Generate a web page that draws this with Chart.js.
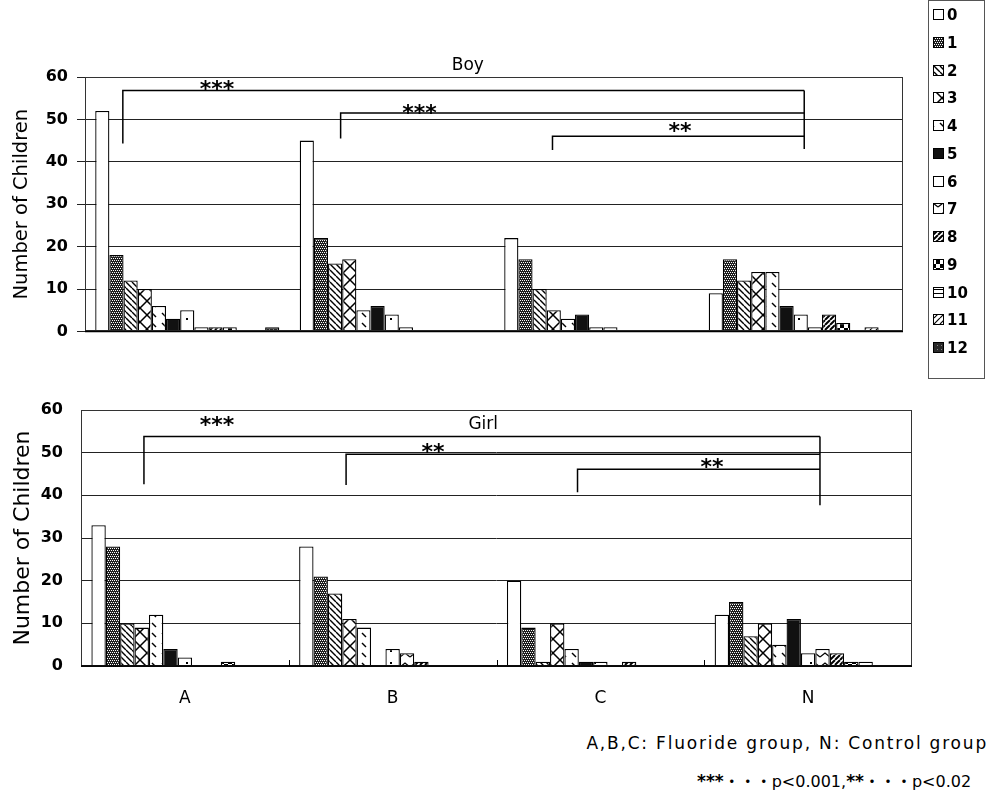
<!DOCTYPE html>
<html><head><meta charset="utf-8">
<script src="https://cdn.jsdelivr.net/npm/chart.js@4"></script>
<style>
html,body{margin:0;padding:0;background:#fff;width:991px;height:796px;overflow:hidden;font-family:"DejaVu Sans";}
#boyWrap{position:absolute;left:0;top:0;width:925px;height:350px;}
#girlWrap{position:absolute;left:0;top:380px;width:925px;height:330px;}
#legend{position:absolute;left:928px;top:0;}
.note{position:absolute;white-space:nowrap;color:#000;line-height:1;}
#note1{right:3px;top:735px;font-size:17px;letter-spacing:1.8px;}
#note2{left:697px;top:773px;font-size:16px;font-family:"DejaVu Sans","Noto Sans CJK JP";}
#note2 b{font-weight:bold;font-size:17px;}
</style></head><body>
<div id="boyWrap"><canvas id="boy" width="925" height="350"></canvas></div>
<div id="girlWrap"><canvas id="girl" width="925" height="330"></canvas></div>
<canvas id="legend" width="58" height="380"></canvas>
<div class="note" id="note1">A,B,C: Fluoride group, N: Control group</div>
<div class="note" id="note2"><b>***</b>・・・p&lt;0.001,<b>**</b>・・・p&lt;0.02</div>
<script>
// ---- data ----
const groups = ['A', 'B', 'C', 'N'];
const scoreLabels = ['0','1','2','3','4','5','6','7','8','9','10','11','12'];
const yTicks = [0, 10, 20, 30, 40, 50, 60];
// number of children per score (0..12), per group
const boyA = [52, 18, 12, 10, 6, 3, 5, 1, 1, 1, 0, 0, 1];
const boyB = [45, 22, 16, 17, 5, 6, 4, 1, 0, 0, 0, 0, 0];
const boyC = [22, 17, 10, 5, 3, 4, 1, 1, 0, 0, 0, 0, 0];
const boyN = [9, 17, 12, 14, 14, 6, 4, 1, 4, 2, 0, 1, 0];
const girlA = [33, 28, 10, 9, 12, 4, 2, 0, 0, 1, 0, 0, 0];
const girlB = [28, 21, 17, 11, 9, 0, 4, 3, 1, 0, 0, 0, 0];
const girlC = [20, 9, 1, 10, 4, 1, 1, 0, 1, 0, 0, 0, 0];
const girlN = [12, 15, 7, 10, 5, 11, 3, 4, 3, 1, 1, 0, 0];
// significance brackets (x in category units, y in data units)
const boySig = [
  {from: -0.315, y: 56.8, leg: 44.3, stars: '***', sx: 0.145, sy: 58.2},
  {from: 0.75,  y: 51.5, leg: 45.5, stars: '***', sx: 1.136, sy: 52.75},
  {from: 1.786, y: 46.0, leg: 42.8, stars: '**',  sx: 2.41,  sy: 48.3}
];
const boySigEnd = {x: 3.017, bottom: 43.0};
const girlSig = [
  {from: -0.197, y: 53.8, leg: 42.6, stars: '***', sx: 0.155, sy: 57.6},
  {from: 0.776, y: 49.6, leg: 42.4, stars: '**',  sx: 1.194, sy: 51.2},
  {from: 1.89,  y: 46.1, leg: 40.7, stars: '**',  sx: 2.537, sy: 47.7}
];
const girlSigEnd = {x: 3.057, bottom: 37.7};

// ---- patterns ----
function diag(g, s, dir, lw) {
  g.strokeStyle = '#000'; g.lineWidth = lw; g.beginPath();
  for (let k = -1; k <= 1; k++) {
    if (dir === '\\') { g.moveTo(k*s, 0); g.lineTo(k*s + s, s); }
    else { g.moveTo(k*s, s); g.lineTo(k*s + s, 0); }
  }
  g.stroke();
}
function makePattern(i) {
  const sizes = [4, 4, 6, 14, 10, 4, 12, 10, 5, 8, 4, 6, 4];
  const s = sizes[i];
  const c = document.createElement('canvas'); c.width = s; c.height = s;
  const g = c.getContext('2d');
  g.fillStyle = '#fff'; g.fillRect(0, 0, s, s);
  g.fillStyle = '#000';
  switch (i) {
    case 1: g.fillStyle = '#1e1e1e'; g.fillRect(0,0,s,s); g.fillStyle = '#fff';
      g.fillRect(0,0,1,1); g.fillRect(2,0,1,1); g.fillRect(1,2,1,1); g.fillRect(3,2,1,1); break;
    case 2: diag(g, s, '\\', 1.4); break;
    case 3: diag(g, s, '\\', 1.5); diag(g, s, '/', 1.5); break;
    case 4: g.strokeStyle = '#000'; g.lineWidth = 1.5; g.beginPath(); g.moveTo(2,3); g.lineTo(6,7); g.stroke(); break;
    case 5: g.fillStyle = '#111'; g.fillRect(0,0,s,s); break;
    case 6: g.fillRect(6,6,2,2); break;
    case 7: g.strokeStyle = '#000'; g.lineWidth = 1.3; g.beginPath(); g.moveTo(0,7); g.lineTo(5,3); g.lineTo(10,7); g.stroke(); break;
    case 8: diag(g, s, '/', 2); break;
    case 9: g.fillRect(4,0,4,4); g.fillRect(0,4,4,4); break;
    case 10: g.fillRect(0,1,4,1); break;
    case 11: diag(g, s, '/', 1.2); break;
    case 12: g.fillStyle = '#2a2a2a'; g.fillRect(0,0,s,s); g.fillStyle = '#888'; g.fillRect(1,1,1,1); break;
  }
  return g.createPattern(c, 'repeat');
}
const patterns = scoreLabels.map((_, i) => makePattern(i));

// ---- plugin: frame, brackets, title ----
const framePlugin = {
  id: 'frame',
  afterDraw(chart, args, o) {
    const {ctx, chartArea: a, scales: {x, y}} = chart;
    const n = chart.data.labels.length;
    const px = p => x.getPixelForDecimal((p + 0.5) / n);
    ctx.save();
    ctx.strokeStyle = '#333'; ctx.lineWidth = 1;
    ctx.strokeRect(Math.round(a.left) + 0.5, Math.round(a.top) + 0.5, Math.round(a.right - a.left) - 1, Math.round(a.bottom - a.top) - 1);
    const y0 = y.getPixelForValue(0);
    ctx.strokeStyle = '#000'; ctx.lineWidth = 1.5;
    ctx.beginPath(); ctx.moveTo(a.left, y0); ctx.lineTo(a.right, y0); ctx.stroke();
    if (o.innerTicks) {
      ctx.lineWidth = 1;
      for (let k = 1; k < n; k++) {
        const xx = Math.round(x.getPixelForDecimal(k / n)) + 0.5;
        ctx.beginPath(); ctx.moveTo(xx, y0); ctx.lineTo(xx, y0 - 6); ctx.stroke();
      }
    }
    ctx.strokeStyle = '#000'; ctx.lineWidth = 1.5;
    const xe = px(o.end.x);
    let topY = Infinity;
    o.sig.forEach(b => {
      const xs = px(b.from), yt = y.getPixelForValue(b.y), yl = y.getPixelForValue(b.leg);
      topY = Math.min(topY, yt);
      ctx.beginPath(); ctx.moveTo(xs, yl); ctx.lineTo(xs, yt); ctx.lineTo(xe, yt); ctx.stroke();
    });
    ctx.beginPath(); ctx.moveTo(xe, topY); ctx.lineTo(xe, y.getPixelForValue(o.end.bottom)); ctx.stroke();
    ctx.fillStyle = '#000';
    ctx.font = 'bold 22px "DejaVu Sans"';
    ctx.textAlign = 'center'; ctx.textBaseline = 'alphabetic';
    o.sig.forEach(b => {
      ctx.fillText(b.stars, px(b.sx), y.getPixelForValue(b.sy) + 11.8);
    });
    ctx.font = o.titleFont;
    ctx.textBaseline = 'middle';
    ctx.fillText(o.title, a.left + o.titleX * (a.right - a.left), o.titleY);
    ctx.restore();
  }
};

function makeChart(id, groupData, cfg) {
  const datasets = scoreLabels.map((lab, i) => ({
    label: lab,
    data: groupData.map(g => g[i]),
    backgroundColor: patterns[i],
    borderColor: '#000',
    borderWidth: 1.3,
    categoryPercentage: 0.9,
    barPercentage: 1.0
  }));
  return new Chart(document.getElementById(id), {
    type: 'bar',
    data: {labels: groups, datasets},
    options: {
      responsive: false, animation: false, devicePixelRatio: 1,
      layout: {padding: {left: 0, top: cfg.padTop, right: cfg.padRight, bottom: cfg.padBottom}},
      plugins: {
        legend: {display: false}, tooltip: {enabled: false},
        frame: {sig: cfg.sig, end: cfg.end, title: cfg.title, titleX: cfg.titleX, titleY: cfg.titleY,
                titleFont: '17px "DejaVu Sans"', innerTicks: cfg.innerTicks}
      },
      scales: {
        x: {
          ticks: {display: cfg.showX, font: {family: 'DejaVu Sans', size: 17}, color: '#000', padding: cfg.xPad},
          grid: {display: false, drawTicks: false}, border: {display: false},
          afterFit: s => { s.height = cfg.xHeight; }
        },
        y: {
          min: 0, max: 60,
          afterBuildTicks: s => { s.ticks = yTicks.map(v => ({value: v})); },
          ticks: {font: {family: 'DejaVu Sans', weight: 'bold', size: 16}, color: '#000', padding: cfg.yPad},
          grid: {color: '#222', lineWidth: 1, tickLength: 8, tickColor: cfg.tickColor},
          border: {display: false},
          title: {display: true, text: 'Number of Children', font: {family: 'DejaVu Sans', size: cfg.yTitleSize},
                  color: '#000', padding: {top: 10, bottom: 0}},
          afterFit: s => { s.width = cfg.yWidth; }
        }
      }
    },
    plugins: [framePlugin]
  });
}

makeChart('boy', [boyA, boyB, boyC, boyN], {
  padTop: 77, padRight: 22, padBottom: 12, xHeight: 0, showX: false, xPad: 0,
  yWidth: 85, yPad: 9, tickColor: '#222', yTitleSize: 19.5,
  sig: boySig, end: boySigEnd, title: 'Boy', titleX: 0.468, titleY: 66, innerTicks: false
});
makeChart('girl', [girlA, girlB, girlC, girlN], {
  padTop: 30, padRight: 13, padBottom: 0, xHeight: 44, showX: true, xPad: 22,
  yWidth: 81, yPad: 10, tickColor: 'rgba(0,0,0,0)', yTitleSize: 22,
  sig: girlSig, end: girlSigEnd, title: 'Girl', titleX: 0.484, titleY: 45, innerTicks: true
});

// ---- legend ----
(function () {
  const c = document.getElementById('legend');
  const g = c.getContext('2d');
  g.fillStyle = '#fff'; g.fillRect(0, 0, c.width, c.height);
  g.strokeStyle = '#555'; g.lineWidth = 1;
  g.strokeRect(0.5, 0.5, 56, 378);
  g.font = 'bold 15px "DejaVu Sans"';
  g.textBaseline = 'middle'; g.textAlign = 'left';
  scoreLabels.forEach((lab, i) => {
    const cy = Math.round(15 + i * 27.75);
    g.fillStyle = patterns[i];
    g.fillRect(5, cy - 6, 11, 11);
    g.strokeStyle = '#000'; g.lineWidth = 1;
    g.strokeRect(5.5, cy - 5.5, 10, 10);
    g.fillStyle = '#000';
    g.fillText(lab, 19, cy + 1);
  });
})();
</script>
</body></html>
